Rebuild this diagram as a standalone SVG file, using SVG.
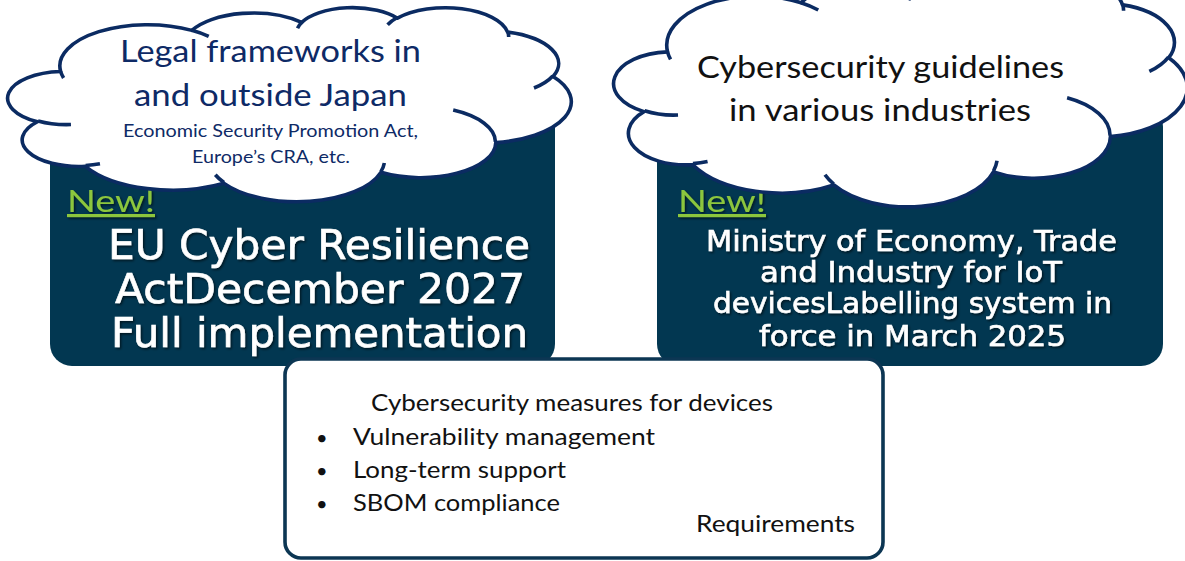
<svg xmlns="http://www.w3.org/2000/svg" xmlns:xlink="http://www.w3.org/1999/xlink" width="1185" height="561" viewBox="0 0 1185 561">
  <style>
    .panel { fill: #023751; }
    .cloud { fill: #ffffff; stroke: #0B2B62; stroke-width: 3.6; stroke-linejoin: round; }
    .crease { fill: none; stroke: #0B2B62; stroke-width: 3.6; stroke-linecap: butt; }
    .req-box { fill: #ffffff; stroke: #0C3653; stroke-width: 3.6; }
    .calibri { font-family: "Lato", "Liberation Sans", sans-serif; }
    .meiryo { font-family: "DejaVu Sans", "Liberation Sans", sans-serif; fill: #ffffff; stroke: #ffffff; stroke-width: 0.6; filter: url(#textShadow); }
    .navy { fill: #0E2A66; }
    .ink { fill: #111111; }
    .new { fill: #8CC63E; text-decoration: underline; filter: url(#textShadow); }
  </style>
  <defs>
    <filter id="textShadow" x="-5%" y="-20%" width="110%" height="150%">
      <feDropShadow dx="1.4" dy="1.6" stdDeviation="0.9" flood-color="#000000" flood-opacity="0.6"/>
    </filter>
    <!-- cloud outline in a 100 x 100 box -->
    <path id="cloudShape" vector-effect="non-scaling-stroke" d="M 9.028 33.264 A 15.632 21.273 0 0 1 32.420 12.043 A 12.345 16.822 0 0 1 51.986 7.951 A 10.104 13.762 0 0 1 69.065 5.756 A 11.243 15.266 0 0 1 88.704 12.924 A 12.345 16.836 0 0 1 96.807 35.803 A 15.683 21.343 0 0 1 86.589 69.930 A 13.391 18.211 0 0 1 66.107 85.231 A 15.630 21.331 0 0 1 38.154 90.905 A 17.870 24.405 0 0 1 13.438 82.119 A 10.093 13.699 0 0 1 4.899 59.144 A 10.058 13.762 0 0 1 9.028 33.264 Z"/>
    <!-- inner crease strokes where the puffs meet -->
    <path id="cloudCreases" vector-effect="non-scaling-stroke" d="M 10.863 60.595 A 10.058 13.762 0 0 1 4.998 58.749 M 16.037 80.785 A 10.093 13.699 0 0 1 13.471 81.668 M 38.144 90.486 A 15.630 21.331 0 0 1 36.598 86.459 M 66.729 80.442 A 15.630 21.331 0 0 1 66.112 84.861 M 79.002 53.134 A 13.391 18.211 0 0 1 86.529 69.652 M 96.755 35.542 A 12.345 16.836 0 0 1 93.403 41.736 M 88.713 12.560 A 11.243 15.266 0 0 1 88.890 15.485 M 67.310 9.148 A 11.243 15.266 0 0 1 69.029 5.415 M 51.252 10.926 A 10.104 13.762 0 0 1 52.084 7.706 M 32.407 12.019 A 15.632 21.273 0 0 1 35.421 15.146 M 9.553 36.549 A 15.632 21.273 0 0 1 9.028 33.264"/>
  </defs>

  <!-- EU CRA panel -->
  <g id="panel-eu-cra">
    <rect class="panel" x="50" y="100" width="505" height="266" rx="22" ry="22"/>
    <text class="calibri new" x="67" y="212" font-size="31" textLength="88" lengthAdjust="spacingAndGlyphs">New!</text>
    <text class="meiryo" x="108" y="259" font-size="40" textLength="422" lengthAdjust="spacingAndGlyphs">EU Cyber Resilience</text>
    <text class="meiryo" x="115" y="303" font-size="40" textLength="410" lengthAdjust="spacingAndGlyphs">ActDecember 2027</text>
    <text class="meiryo" x="111" y="347" font-size="40" textLength="417" lengthAdjust="spacingAndGlyphs">Full implementation</text>
  </g>

  <!-- METI labelling panel -->
  <g id="panel-meti-label">
    <rect class="panel" x="657" y="105" width="506" height="261" rx="22" ry="22"/>
    <text class="calibri new" x="678" y="212" font-size="31" textLength="88" lengthAdjust="spacingAndGlyphs">New!</text>
    <text class="meiryo" x="706" y="251" font-size="29" textLength="411" lengthAdjust="spacingAndGlyphs">Ministry of Economy, Trade</text>
    <text class="meiryo" x="760" y="282" font-size="29" textLength="302" lengthAdjust="spacingAndGlyphs">and Industry for IoT</text>
    <text class="meiryo" x="713" y="313" font-size="29" textLength="399" lengthAdjust="spacingAndGlyphs">devicesLabelling system in</text>
    <text class="meiryo" x="759" y="346" font-size="29" textLength="307" lengthAdjust="spacingAndGlyphs">force in March 2025</text>
  </g>

  <!-- legal frameworks cloud -->
  <g id="cloud-legal">
    <use xlink:href="#cloudShape" class="cloud" transform="translate(10 7) scale(5.61 1.94)"/>
    <use xlink:href="#cloudCreases" class="crease" transform="translate(10 7) scale(5.61 1.94)"/>
    <text class="calibri navy" x="120" y="62" font-size="31" textLength="301" lengthAdjust="spacingAndGlyphs">Legal frameworks in</text>
    <text class="calibri navy" x="134" y="106" font-size="31" textLength="273" lengthAdjust="spacingAndGlyphs">and outside Japan</text>
    <text class="calibri navy" x="123" y="137" font-size="17.5" textLength="295" lengthAdjust="spacingAndGlyphs">Economic Security Promotion Act,</text>
    <text class="calibri navy" x="192" y="163" font-size="17.5" textLength="158" lengthAdjust="spacingAndGlyphs">Europe’s CRA, etc.</text>
  </g>

  <!-- industry guidelines cloud -->
  <g id="cloud-guidelines">
    <use xlink:href="#cloudShape" class="cloud" transform="translate(616 -25) scale(5.71 2.31)"/>
    <use xlink:href="#cloudCreases" class="crease" transform="translate(616 -25) scale(5.71 2.31)"/>
    <text class="calibri ink" x="697" y="78" font-size="31" textLength="367" lengthAdjust="spacingAndGlyphs">Cybersecurity guidelines</text>
    <text class="calibri ink" x="729" y="121" font-size="31" textLength="302" lengthAdjust="spacingAndGlyphs">in various industries</text>
  </g>

  <!-- device requirements box -->
  <g id="requirements">
    <rect class="req-box" x="285" y="359" width="598" height="199" rx="16" ry="16"/>
    <text class="calibri ink" x="371" y="411" font-size="23" textLength="402" lengthAdjust="spacingAndGlyphs">Cybersecurity measures for devices</text>
    <text class="calibri ink" x="316" y="445" font-size="20">•</text>
    <text class="calibri ink" x="353" y="445" font-size="23" textLength="302" lengthAdjust="spacingAndGlyphs">Vulnerability management</text>
    <text class="calibri ink" x="316" y="478" font-size="20">•</text>
    <text class="calibri ink" x="353" y="478" font-size="23" textLength="213" lengthAdjust="spacingAndGlyphs">Long-term support</text>
    <text class="calibri ink" x="316" y="511" font-size="20">•</text>
    <text class="calibri ink" x="353" y="511" font-size="23" textLength="207" lengthAdjust="spacingAndGlyphs">SBOM compliance</text>
    <text class="calibri ink" x="696" y="532" font-size="23" textLength="159" lengthAdjust="spacingAndGlyphs">Requirements</text>
  </g>

  <!-- no connectors between these nodes -->
  <g id="connectors"/>
</svg>
